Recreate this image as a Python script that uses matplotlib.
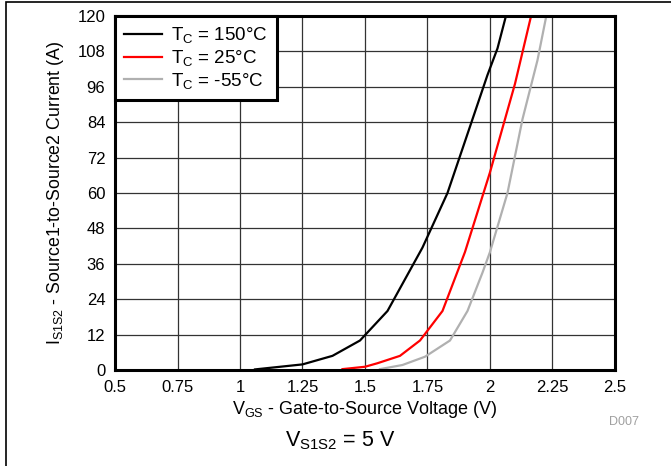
import matplotlib.pyplot as plt
from matplotlib.patches import Rectangle

plt.rcParams['font.family'] = ['Liberation Sans', 'DejaVu Sans']
plt.rcParams['mathtext.default'] = 'regular'

# V_GS (V) vs I_S1S2 (A)
v_150 = [1.06, 1.25, 1.37, 1.48, 1.59, 1.73, 1.83, 1.91, 1.99, 2.03, 2.07]
i_150 = [0.2, 1.9, 4.8, 10, 20, 41.5, 60, 80, 100, 109, 122]

v_25 = [1.41, 1.5, 1.55, 1.64, 1.72, 1.81, 1.9, 2.0, 2.1, 2.17]
i_25 = [0.3, 1.1, 2.3, 4.8, 10, 20, 40, 67, 97, 122]

v_m55 = [1.56, 1.65, 1.74, 1.84, 1.91, 1.97, 2.0, 2.07, 2.13, 2.19, 2.23]
i_m55 = [0.3, 1.7, 4.5, 10, 20, 33, 40, 60, 85, 105, 122]

x_ticks = [0.5, 0.75, 1, 1.25, 1.5, 1.75, 2, 2.25, 2.5]
x_tick_labels = ['0.5', '0.75', '1', '1.25', '1.5', '1.75', '2', '2.25', '2.5']
y_ticks = [0, 12, 24, 36, 48, 60, 72, 84, 96, 108, 120]

fig = plt.figure(figsize=(6.71, 4.66), dpi=100)
ax = fig.add_axes([0.1714, 0.206, 0.7451, 0.7597])

ax.plot(v_150, i_150, color='black', lw=1.6, label='T$_C$ = 150°C')
ax.plot(v_25, i_25, color='#ff0000', lw=1.6, label='T$_C$ = 25°C')
ax.plot(v_m55, i_m55, color='#b0b0b0', lw=1.6, label='T$_C$ = -55°C')

ax.set_xlim(0.5, 2.5)
ax.set_ylim(0, 120)
ax.set_xticks(x_ticks)
ax.set_xticklabels(x_tick_labels)
ax.set_yticks(y_ticks)
ax.tick_params(length=0, labelsize=12, pad=7)
ax.grid(True, color='#333333', lw=0.9)
ax.set_axisbelow(True)
for s in ax.spines.values():
    s.set_linewidth(2.2)

ax.set_xlabel('V$_{GS}$ - Gate-to-Source Voltage (V)', fontsize=13, labelpad=3)
ax.set_ylabel('I$_{S1S2}$ - Source1-to-Source2 Current (A)', fontsize=12.8, labelpad=8)

leg = ax.legend(loc='upper left', borderaxespad=0, fancybox=False, fontsize=13.5,
                handlelength=2.0, labelspacing=0.15, borderpad=0.5, handletextpad=0.5)
leg.get_frame().set_edgecolor('black')
leg.get_frame().set_linewidth(2.2)
leg.get_frame().set_alpha(1)

fig.text(624 / 671, 1 - 422 / 466, 'D007', color='#a0a0a0', fontsize=9, ha='center', va='center')
fig.text(340 / 671, 1 - 441 / 466, 'V$_{S1S2}$ = 5 V', fontsize=15.5, ha='center', va='center')

fig.patches.append(Rectangle((6 / 671, -0.1), 1.2, 1.1 - 1.5 / 466, transform=fig.transFigure,
                             fill=False, edgecolor='black', lw=1.2))

fig.savefig('out.png', dpi=100)
